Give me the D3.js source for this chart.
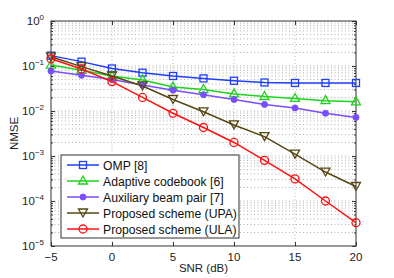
<!DOCTYPE html>
<html>
<head>
<meta charset="utf-8" />
<title>NMSE vs SNR</title>
<style>
  body { margin: 0; background: #fff; }
  svg text { font-family: "Liberation Sans", Arial, sans-serif; }
</style>
</head>
<body>
<svg id="chart" width="394" height="278"></svg>
<script src="https://cdn.jsdelivr.net/npm/d3@7"></script>
<script>
// data
var snr = [-5, -2.5, 0, 2.5, 5, 7.5, 10, 12.5, 15, 17.5, 20];
var omp = [0.17, 0.125, 0.088, 0.071, 0.06, 0.053, 0.047, 0.043, 0.042, 0.042, 0.042];
var adaptive = [0.105, 0.08, 0.06, 0.049, 0.034, 0.03, 0.024, 0.021, 0.019, 0.017, 0.016];
var auxiliary = [0.077, 0.062, 0.05, 0.038, 0.029, 0.023, 0.018, 0.014, 0.0117, 0.0089, 0.0072];
var upa = [0.16, 0.097, 0.06, 0.036, 0.018, 0.0096, 0.0049, 0.0027, 0.0011, 0.00044, 0.00021];
var ula = [0.145, 0.086, 0.045, 0.02, 0.0089, 0.0043, 0.002, 0.0008, 0.00031, 0.0001, 0.000033];

var seriesNames = ["OMP [8]", "Adaptive codebook [6]", "Auxiliary beam pair [7]",
  "Proposed scheme (UPA)", "Proposed scheme (ULA)"];
var seriesValues = [omp, adaptive, auxiliary, upa, ula];
var seriesColors = ["#1f3dff", "#1ed31e", "#7a4dff", "#574712", "#ff1010"];
var seriesMarkers = ["square", "triangle", "dot", "triangleDown", "circle"];

var xTicks = [-5, 0, 5, 10, 15, 20];
var yExps = [0, -1, -2, -3, -4, -5];

var svg = d3.select("#chart");
var margin = { left: 51, top: 21 };
var w = 305, h = 225;

var x = d3.scaleLinear().domain([-5, 20]).range([0, w]);
var y = d3.scaleLog().domain([1e-5, 1]).range([h, 0]);

var g = svg.append("g").attr("transform", "translate(" + margin.left + "," + margin.top + ")");

// minor ticks on log axis
var minor = [];
for (var e = -5; e < 0; e++) {
  for (var k = 2; k <= 9; k++) minor.push(k * Math.pow(10, e));
}

// grid
g.selectAll(".vgrid").data(xTicks.slice(1, -1)).enter().append("line")
  .attr("x1", function(d) { return x(d); }).attr("x2", function(d) { return x(d); })
  .attr("y1", 0).attr("y2", h)
  .attr("stroke", "#aaa").attr("stroke-width", 0.8).attr("stroke-dasharray", "1,2.5");

g.selectAll(".hgrid").data(minor.concat(yExps.slice(1, -1).map(function(e) { return Math.pow(10, e); })))
  .enter().append("line")
  .attr("x1", 0).attr("x2", w)
  .attr("y1", function(d) { return y(d); }).attr("y2", function(d) { return y(d); })
  .attr("stroke", "#999").attr("stroke-width", 0.8).attr("stroke-dasharray", "1,2.5");

// axes box
g.append("rect").attr("width", w).attr("height", h)
  .attr("fill", "none").attr("stroke", "#333").attr("stroke-width", 1);

// ticks pointing inwards
var xAxis = d3.axisBottom(x).tickValues(xTicks).tickSize(-4).tickFormat("");
g.append("g").attr("transform", "translate(0," + h + ")").call(xAxis)
  .call(function(s) { s.select(".domain").remove(); });
g.append("g").call(d3.axisTop(x).tickValues(xTicks).tickSize(-4).tickFormat(""))
  .call(function(s) { s.select(".domain").remove(); });

var yAxisL = d3.axisLeft(y).tickValues(yExps.map(function(e) { return Math.pow(10, e); })).tickSize(-4).tickFormat("");
g.append("g").call(yAxisL).call(function(s) { s.select(".domain").remove(); });
g.append("g").call(d3.axisLeft(y).tickValues(minor).tickSize(-2).tickFormat(""))
  .call(function(s) { s.select(".domain").remove(); });
g.append("g").attr("transform", "translate(" + w + ",0)")
  .call(d3.axisRight(y).tickValues(yExps.map(function(e) { return Math.pow(10, e); })).tickSize(-4).tickFormat(""))
  .call(function(s) { s.select(".domain").remove(); });
g.append("g").attr("transform", "translate(" + w + ",0)")
  .call(d3.axisRight(y).tickValues(minor).tickSize(-2).tickFormat(""))
  .call(function(s) { s.select(".domain").remove(); });
g.selectAll(".tick line").attr("stroke", "#333");

// tick labels
g.selectAll(".xlab").data(xTicks).enter().append("text")
  .attr("x", function(d) { return x(d); }).attr("y", h + 15)
  .attr("text-anchor", "middle").attr("font-size", 11.5).attr("fill", "#222")
  .text(function(d) { return d < 0 ? "\u2212" + Math.abs(d) : d; });

var ylab = g.selectAll(".ylab").data(yExps).enter().append("text")
  .attr("x", -7).attr("y", function(d) { return y(Math.pow(10, d)) + 4; })
  .attr("text-anchor", "end").attr("font-size", 11.5).attr("fill", "#222");
ylab.append("tspan").text("10");
ylab.append("tspan").attr("dy", -5).attr("font-size", 8)
  .text(function(d) { return d < 0 ? "\u2212" + Math.abs(d) : d; });

// axis titles
svg.append("text").attr("x", margin.left + w / 2).attr("y", 272)
  .attr("text-anchor", "middle").attr("font-size", 11.5).attr("fill", "#222").text("SNR (dB)");
svg.append("text").attr("transform", "translate(18," + (margin.top + h / 2) + ") rotate(-90)")
  .attr("text-anchor", "middle").attr("font-size", 11.5).attr("fill", "#222").text("NMSE");

function drawMarker(sel, type, color) {
  if (type === "square") {
    sel.append("rect").attr("x", -3.5).attr("y", -3.5).attr("width", 7).attr("height", 7)
      .attr("fill", "none").attr("stroke", color).attr("stroke-width", 1.3);
  } else if (type === "triangle") {
    sel.append("path").attr("d", "M0,-5L4.5,3L-4.5,3Z")
      .attr("fill", "none").attr("stroke", color).attr("stroke-width", 1.3);
  } else if (type === "triangleDown") {
    sel.append("path").attr("d", "M0,4L4.5,-4L-4.5,-4Z")
      .attr("fill", "none").attr("stroke", color).attr("stroke-width", 1.3);
  } else if (type === "circle") {
    sel.append("circle").attr("r", 4)
      .attr("fill", "none").attr("stroke", color).attr("stroke-width", 1.3);
  } else {
    sel.append("circle").attr("r", 3).attr("fill", color).attr("stroke", color);
  }
}

var line = d3.line()
  .x(function(d, i) { return x(snr[i]); })
  .y(function(d) { return y(d); });

seriesValues.forEach(function(vals, s) {
  g.append("path").datum(vals).attr("d", line)
    .attr("fill", "none").attr("stroke", seriesColors[s]).attr("stroke-width", 1.5);
  g.selectAll(".m" + s).data(vals).enter().append("g")
    .attr("transform", function(d, i) { return "translate(" + x(snr[i]) + "," + y(d) + ")"; })
    .each(function() { drawMarker(d3.select(this), seriesMarkers[s], seriesColors[s]); });
});

// legend
var lg = svg.append("g").attr("transform", "translate(61,155)");
lg.append("rect").attr("width", 178).attr("height", 83)
  .attr("fill", "#fff").attr("stroke", "#333").attr("stroke-width", 1);
seriesNames.forEach(function(name, s) {
  var ly = 10 + s * 16;
  lg.append("line").attr("x1", 6).attr("x2", 38).attr("y1", ly).attr("y2", ly)
    .attr("stroke", seriesColors[s]).attr("stroke-width", 1.5);
  drawMarker(lg.append("g").attr("transform", "translate(22," + ly + ")"), seriesMarkers[s], seriesColors[s]);
  lg.append("text").attr("x", 42).attr("y", ly + 4.5).attr("font-size", 12.2).attr("fill", "#111").text(name);
});
</script>
</body>
</html>
